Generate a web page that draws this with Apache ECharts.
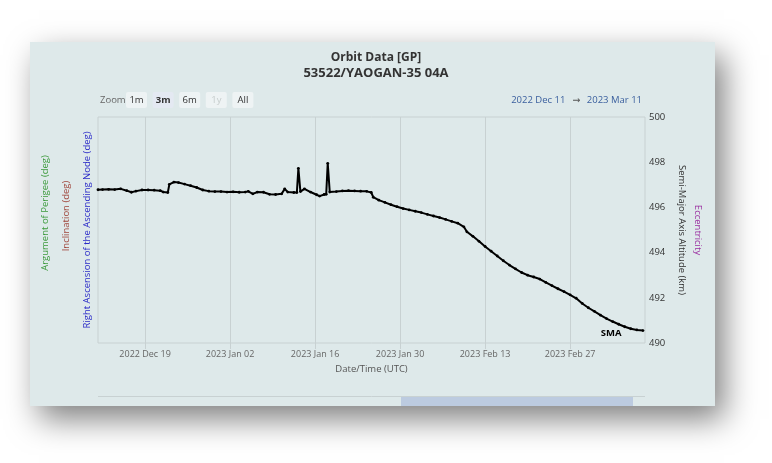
<!DOCTYPE html>
<html lang="en">
<head>
    <meta charset="UTF-8">
    <title>Orbit Data [GP]</title>
    <style>html, body { margin: 0; padding: 0; background: #fff; }</style>
</head>
<body>
<div id="main" style="width: 772px; height: 463px"></div>
<script src="https://cdn.jsdelivr.net/npm/echarts@6.0.0/dist/echarts.min.js"></script>
<script>
    // SMA samples (UTC)
    var smaDates = [
        '2022-12-11T06:00Z', '2022-12-12T00:00Z', '2022-12-13T00:00Z', '2022-12-14T00:00Z', '2022-12-15T00:00Z',
        '2022-12-16T00:00Z', '2022-12-16T18:00Z', '2022-12-17T12:00Z', '2022-12-18T12:00Z', '2022-12-19T12:00Z',
        '2022-12-20T12:00Z', '2022-12-21T12:00Z', '2022-12-22T00:00Z', '2022-12-22T18:00Z', '2022-12-23T00:00Z',
        '2022-12-23T18:00Z', '2022-12-24T12:00Z', '2022-12-25T12:00Z', '2022-12-26T12:00Z', '2022-12-27T12:00Z',
        '2022-12-28T12:00Z', '2022-12-29T12:00Z', '2022-12-30T12:00Z', '2022-12-31T12:00Z', '2023-01-01T12:00Z',
        '2023-01-02T12:00Z', '2023-01-03T12:00Z', '2023-01-04T12:00Z', '2023-01-05T00:00Z', '2023-01-05T18:00Z',
        '2023-01-06T12:00Z', '2023-01-07T12:00Z', '2023-01-08T12:00Z', '2023-01-09T12:00Z', '2023-01-10T12:00Z',
        '2023-01-11T00:00Z', '2023-01-11T12:00Z', '2023-01-12T12:00Z', '2023-01-13T00:00Z', '2023-01-13T06:00Z',
        '2023-01-13T14:00Z', '2023-01-14T06:00Z', '2023-01-15T06:00Z', '2023-01-16T06:00Z', '2023-01-16T18:00Z',
        '2023-01-17T12:00Z', '2023-01-17T20:00Z', '2023-01-18T02:00Z', '2023-01-18T10:00Z', '2023-01-19T12:00Z',
        '2023-01-20T12:00Z', '2023-01-21T12:00Z', '2023-01-22T12:00Z', '2023-01-23T12:00Z', '2023-01-24T12:00Z',
        '2023-01-25T06:00Z', '2023-01-25T14:00Z', '2023-01-26T12:00Z', '2023-01-27T12:00Z', '2023-01-28T12:00Z',
        '2023-01-29T12:00Z', '2023-01-30T12:00Z', '2023-01-31T12:00Z', '2023-02-01T12:00Z', '2023-02-02T12:00Z',
        '2023-02-03T12:00Z', '2023-02-04T12:00Z', '2023-02-05T12:00Z', '2023-02-06T12:00Z', '2023-02-07T12:00Z',
        '2023-02-08T12:00Z', '2023-02-09T12:00Z', '2023-02-10T00:00Z', '2023-02-11T00:00Z', '2023-02-12T00:00Z',
        '2023-02-13T00:00Z', '2023-02-14T00:00Z', '2023-02-15T00:00Z', '2023-02-16T00:00Z', '2023-02-17T00:00Z',
        '2023-02-18T00:00Z', '2023-02-19T00:00Z', '2023-02-20T00:00Z', '2023-02-21T00:00Z', '2023-02-22T00:00Z',
        '2023-02-23T00:00Z', '2023-02-24T00:00Z', '2023-02-25T00:00Z', '2023-02-26T00:00Z', '2023-02-27T00:00Z',
        '2023-02-28T00:00Z', '2023-03-01T00:00Z', '2023-03-02T00:00Z', '2023-03-03T00:00Z', '2023-03-04T00:00Z',
        '2023-03-05T00:00Z', '2023-03-06T00:00Z', '2023-03-07T00:00Z', '2023-03-08T00:00Z', '2023-03-09T00:00Z',
        '2023-03-10T00:00Z', '2023-03-11T00:00Z'
    ];
    var smaValues = [
        496.78, 496.79, 496.80, 496.79, 496.82,
        496.74, 496.67, 496.72, 496.77, 496.77,
        496.76, 496.74, 496.68, 496.66, 497.02,
        497.12, 497.10, 497.03, 496.96, 496.88,
        496.77, 496.72, 496.70, 496.70, 496.68,
        496.69, 496.67, 496.68, 496.71, 496.60,
        496.68, 496.67, 496.58, 496.57, 496.60,
        496.82, 496.68, 496.66, 496.66, 497.73,
        496.70, 496.82, 496.68, 496.56, 496.50,
        496.57, 496.58, 497.95, 496.68, 496.70,
        496.73, 496.74, 496.73, 496.72, 496.71,
        496.66, 496.45, 496.32, 496.22, 496.12,
        496.03, 495.95, 495.89, 495.83, 495.77,
        495.69, 495.62, 495.55, 495.47, 495.38,
        495.30, 495.14, 494.92, 494.72, 494.50,
        494.27, 494.06, 493.85, 493.64, 493.45,
        493.28, 493.12, 493.00, 492.92, 492.83,
        492.68, 492.54, 492.40, 492.27, 492.13,
        491.98, 491.75, 491.56, 491.40, 491.23,
        491.08, 490.95, 490.83, 490.72, 490.63,
        490.58, 490.55
    ];
    var tickDates = ['2022-12-19', '2023-01-02', '2023-01-16', '2023-01-30', '2023-02-13', '2023-02-27'];
    var rangeStart = '2022-12-11T06:00Z';
    var rangeEnd = '2023-03-11T08:00Z';
    var smaMin = 490, smaMax = 500, smaStep = 2;
    var zoomButtons = ['1m', '3m', '6m', '1y', 'All'];
    var selectedButton = '3m', disabledButton = '1y';

    var months = ['Jan', 'Feb', 'Mar', 'Apr', 'May', 'Jun', 'Jul', 'Aug', 'Sep', 'Oct', 'Nov', 'Dec'];
    function fmtDate(t) {
        var d = new Date(t);
        var day = d.getUTCDate();
        return d.getUTCFullYear() + ' ' + months[d.getUTCMonth()] + ' ' + (day < 10 ? '0' + day : day);
    }

    var font = "'Open Sans', 'DejaVu Sans', sans-serif";
    var gridColor = '#c8d1d2';
    var tickValues = tickDates.map(function (d) { return Date.parse(d + 'T00:00Z'); });

    var seriesData = smaDates.map(function (d, i) {
        var item = {value: [Date.parse(d), smaValues[i]]};
        if (i === smaDates.length - 1) {
            item.label = {
                show: true, formatter: 'SMA', position: 'left', distance: 22, offset: [2, 3],
                fontFamily: font, fontSize: 9.5, fontWeight: 'bold', color: '#000'
            };
        }
        return item;
    });

    var graphics = [];
    // panel with drop shadow
    graphics.push({
        type: 'rect', z: -10, silent: true,
        shape: {x: 30, y: 42, width: 685, height: 364},
        style: {fill: '#dee9ea', shadowBlur: 30, shadowOffsetX: 9, shadowOffsetY: 13, shadowColor: 'rgba(0,0,0,0.5)'}
    });
    // range selector buttons
    graphics.push({
        type: 'text', x: 100, y: 100,
        style: {text: 'Zoom', font: '9.5px ' + font, fill: '#666', textAlign: 'left', textVerticalAlign: 'middle'}
    });
    zoomButtons.forEach(function (b, i) {
        var bx = 126 + i * 26.6;
        var sel = b === selectedButton, dis = b === disabledButton;
        graphics.push({
            type: 'rect', shape: {x: bx, y: 92, width: 21, height: 16, r: 2},
            style: {fill: sel ? '#e4e9f2' : '#eef3f4'}
        });
        graphics.push({
            type: 'text', x: bx + 10.5, y: 100,
            style: {
                text: b, font: (sel ? 'bold ' : '') + '9.5px ' + font,
                fill: dis ? '#c6cccc' : '#333', textAlign: 'center', textVerticalAlign: 'middle'
            }
        });
    });
    // selected range text
    graphics.push({
        type: 'text', x: 642, y: 100,
        style: {
            text: '{d|' + fmtDate(Date.parse(rangeStart)) + '}  {a|→}  {d|' + fmtDate(Date.parse(rangeEnd)) + '}',
            textAlign: 'right', textVerticalAlign: 'middle',
            rich: {
                d: {fontFamily: font, fontSize: 9.5, fill: '#3a5f9e'},
                a: {fontFamily: font, fontSize: 9.5, fill: '#555'}
            }
        }
    });
    // empty axes titles
    var sideTitles = [
        {text: 'Argument of Perigee (deg)', x: 45, y: 213, color: '#3c9a3c', rot: Math.PI / 2},
        {text: 'Inclination (deg)', x: 66, y: 216, color: '#a0463c', rot: Math.PI / 2},
        {text: 'Right Ascension of the Ascending Node (deg)', x: 87, y: 230, color: '#2b2bc8', rot: Math.PI / 2},
        {text: 'Eccentricity', x: 698, y: 230, color: '#9a2ea0', rot: -Math.PI / 2}
    ];
    sideTitles.forEach(function (s) {
        graphics.push({
            type: 'text', x: s.x, y: s.y, rotation: s.rot,
            style: {text: s.text, font: '9.5px ' + font, fill: s.color, textAlign: 'center', textVerticalAlign: 'middle'}
        });
    });
    // navigator strip (cut off by the panel edge)
    graphics.push({
        type: 'line', shape: {x1: 98, y1: 396.5, x2: 645, y2: 396.5},
        style: {stroke: gridColor, lineWidth: 1}
    });
    graphics.push({
        type: 'rect', shape: {x: 401, y: 397, width: 232, height: 9},
        style: {fill: '#bccbe0'}
    });

    var myChart = echarts.init(document.getElementById('main'));
    var option = {
        animation: false,
        title: {
            text: 'Orbit Data [GP]',
            subtext: '53522/YAOGAN-35 04A',
            left: 371, top: 47, textAlign: 'center', itemGap: 3,
            textStyle: {fontFamily: font, fontSize: 12, fontWeight: 'bold', color: '#333'},
            subtextStyle: {fontFamily: font, fontSize: 13, fontWeight: 'bold', color: '#333'}
        },
        graphic: graphics,
        grid: {
            left: 98, right: 127, top: 117, bottom: 120,
            show: true, borderColor: gridColor, borderWidth: 1, backgroundColor: 'transparent'
        },
        xAxis: {
            type: 'value',
            min: Date.parse(rangeStart),
            max: Date.parse(rangeEnd),
            name: 'Date/Time (UTC)',
            nameLocation: 'middle',
            nameGap: 21,
            nameTextStyle: {fontFamily: font, fontSize: 9.5, color: '#555'},
            axisLine: {show: false},
            axisTick: {show: true, length: 6, lineStyle: {color: gridColor}, customValues: tickValues},
            axisLabel: {
                fontFamily: font, fontSize: 9, color: '#666', margin: 7,
                customValues: tickValues,
                formatter: function (v) { return fmtDate(v); }
            },
            splitLine: {show: true, lineStyle: {color: gridColor, width: 1}}
        },
        yAxis: {
            type: 'value',
            position: 'right',
            min: smaMin, max: smaMax, interval: smaStep,
            name: 'Semi-Major Axis Altitude (km)',
            nameLocation: 'middle',
            nameRotate: -90,
            nameGap: 32,
            nameTextStyle: {fontFamily: font, fontSize: 9.5, color: '#333'},
            axisLine: {show: false},
            axisTick: {show: false},
            splitLine: {show: false},
            axisLabel: {fontFamily: font, fontSize: 9.5, color: '#333', margin: 4}
        },
        series: [{
            name: 'SMA',
            type: 'line',
            data: seriesData,
            showSymbol: true,
            showAllSymbol: true,
            symbol: 'circle',
            symbolSize: 2.8,
            itemStyle: {color: '#000'},
            lineStyle: {color: '#000', width: 2},
            z: 3
        }]
    };
    myChart.setOption(option);
</script>
</body>
</html>
